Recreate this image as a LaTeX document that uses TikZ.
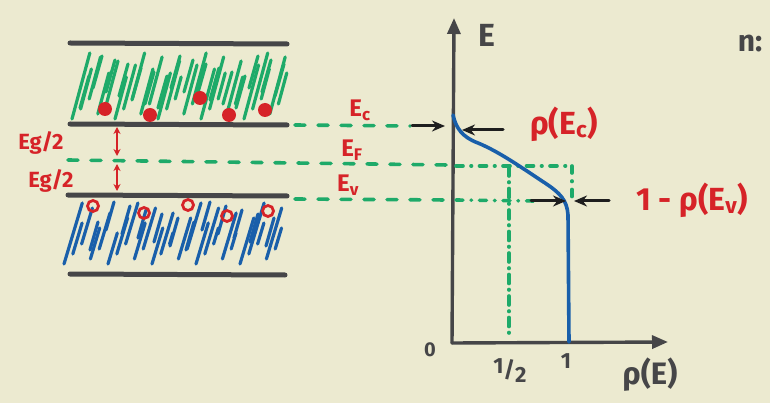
\documentclass[tikz,border=0pt]{standalone}
\usepackage{fontspec}
\setmainfont{Fira Sans}
\usetikzlibrary{arrows.meta}
\definecolor{bg}{RGB}{236,234,208}
\definecolor{mred}{RGB}{214,35,40}
\definecolor{mgreen}{RGB}{30,170,105}
\definecolor{mblue}{RGB}{25,95,170}
\definecolor{mgray}{RGB}{70,70,72}
\definecolor{mblack}{RGB}{30,30,30}
\begin{document}
\begin{tikzpicture}[x=1pt,y=-1pt,line cap=round,
  band/.style={mgray,line width=5pt},
  hatchg/.style={mgreen,line width=3.2pt},
  hatchb/.style={mblue,line width=3.2pt},
  lvl/.style={mgreen,line width=3.6pt,dash pattern=on 10pt off 13pt},
  dotl/.style={mgreen,line width=3.6pt,dash pattern=on 7pt off 8pt on 0.5pt off 8pt},
  axisline/.style={mgray,line width=3.4pt,-{Triangle[length=16pt,width=13pt]}},
  barrow/.style={mblack,line width=3pt,-{Stealth[length=13pt,width=11pt]}},
  rarrow/.style={mred,line width=2pt,{Stealth[length=7pt,width=7pt]}-{Stealth[length=7pt,width=7pt]}},
  lab/.style={mred,font=\bfseries\fontsize{24}{24}\selectfont},
  biglab/.style={mred,font=\bfseries\fontsize{32}{32}\selectfont},
  eglab/.style={mred,font=\bfseries\fontsize{22}{22}\selectfont},
  dark/.style={mgray,font=\bfseries\fontsize{#1}{#1}\selectfont}]
\fill[bg] (0,0) rectangle (770,403);
\useasboundingbox (0,0) rectangle (770,403);

% green hatching (conduction band)
\foreach \i in {0,...,24} {
  \pgfmathsetmacro\xa{72+8.6*\i}
  \pgfmathsetmacro\yb{119-mod(\i*7,5)*5}
  \pgfmathsetmacro\yt{53+mod(\i*11,7)*4}
  \draw[hatchg] (\xa,\yb) -- ({\xa+(\yb-\yt)*0.27},\yt);
}
\foreach \i in {0,...,15} {
  \pgfmathsetmacro\xa{80+13*\i}
  \pgfmathsetmacro\yb{108-mod(\i*5,6)*4}
  \draw[hatchg] (\xa,\yb) -- ({\xa+9},{\yb-32});
}
% blue hatching (valence band)
\foreach \i in {0,...,24} {
  \pgfmathsetmacro\xa{64+8.8*\i}
  \pgfmathsetmacro\yb{264-mod(\i*7,5)*5}
  \pgfmathsetmacro\yt{203+mod(\i*11,7)*5}
  \draw[hatchb] (\xa,\yb) -- ({\xa+(\yb-\yt)*0.3},\yt);
}
\foreach \i in {0,...,11} {
  \pgfmathsetmacro\xa{90+16*\i}
  \pgfmathsetmacro\yb{250-mod(\i*5,6)*4}
  \draw[hatchb] (\xa,\yb) -- ({\xa+8},{\yb-28});
}

% band edges
\draw[band] (70,43) coordinate (ctop) -- (287,44);
\draw[band] (70,124) coordinate (ecl) -- (287,125) coordinate (ecr);
\draw[band] (68,195) coordinate (evl) -- (287,196) coordinate (evr);
\draw[band] (70,274) coordinate (vbot) -- (285,275);

% electrons
\foreach \p in {(105,109),(150,115),(200,98),(229,115),(265,110)}
  \fill[mred] \p circle (7pt);
% holes
\foreach \p in {(93,206),(144,213),(188,205),(227,216),(268,211)}
  \draw[mred,line width=2.8pt] \p circle (5.5pt);

% Eg/2 arrows and labels
\coordinate (g1) at (117,127);
\coordinate (g2) at (117,156);
\coordinate (g3) at (117,164);
\coordinate (g4) at (117,191);
\draw[rarrow] (g1) -- (g2);
\draw[rarrow] (g3) -- (g4);
\node[eglab] (eg1) at (41,143) {Eg/2};
\node[eglab] (eg2) at (51,181) {Eg/2};

% axes
\coordinate (o) at (452,343);
\coordinate (ytip) at (454,18);
\coordinate (xtip) at (668,342);
\draw[axisline] (o) -- (ytip);
\draw[axisline] (o) -- (xtip);
\node[dark=32] (elab) at (487,35) {E};
\node[dark=20] (zero) at (430,350) {0};
\node[dark=22] (half) at (510,371) {\raisebox{4pt}{1}/\raisebox{-5pt}{2}};
\node[dark=22] (one) at (566,361) {1};
\node[dark=31] (rhoe) at (650,375) {ρ(E)};
\node[dark=30] (nlab) at (750,44) {n:};

% levels
\coordinate (ecend) at (410,126);
\draw[lvl] (ecr) ++(8,0) -- (ecend);
\draw[lvl] (68,160) -- (448,165);
\coordinate (fl) at (456,166);
\coordinate (fr) at (572,166);
\draw[dotl] (fl) -- (fr);
\draw[lvl] (evr) ++(8,3) -- (448,200);
\draw[dotl] (456,200) -- (535,201);
\coordinate (vr) at (572,201);
\draw[dotl] (fr) -- (vr);
\coordinate (hbot) at (509,335);
\draw[dotl,dash pattern=on 9pt off 6pt on 0.5pt off 6pt] (509,167) -- (hbot);

% occupation curve
\draw[mblue,line width=3.6pt] (453,115) .. controls (456,128) and (462,137) .. (478,143)
  .. controls (500,152) and (525,170) .. (545,183)
  .. controls (560,193) and (567,200) .. (568,215) -- (569,342);

% black arrows
\draw[barrow] (412,126) -- (445,126);
\draw[barrow] (503,130) -- (462,130);
\draw[barrow] (531,201) -- (566,201);
\draw[barrow] (609,201) -- (574,201);

% red labels
\node[lab] (ec) at (360,110) {E\textsubscript{c}};
\node[lab] (ef) at (352,150) {E\textsubscript{F}};
\node[lab] (ev) at (348,185) {E\textsubscript{v}};
\node[biglab] (pec) at (564,124) {ρ(E\textsubscript{c})};
\node[biglab] (pev) at (692,200) {1 - ρ(E\textsubscript{v})};
\end{tikzpicture}
\end{document}
